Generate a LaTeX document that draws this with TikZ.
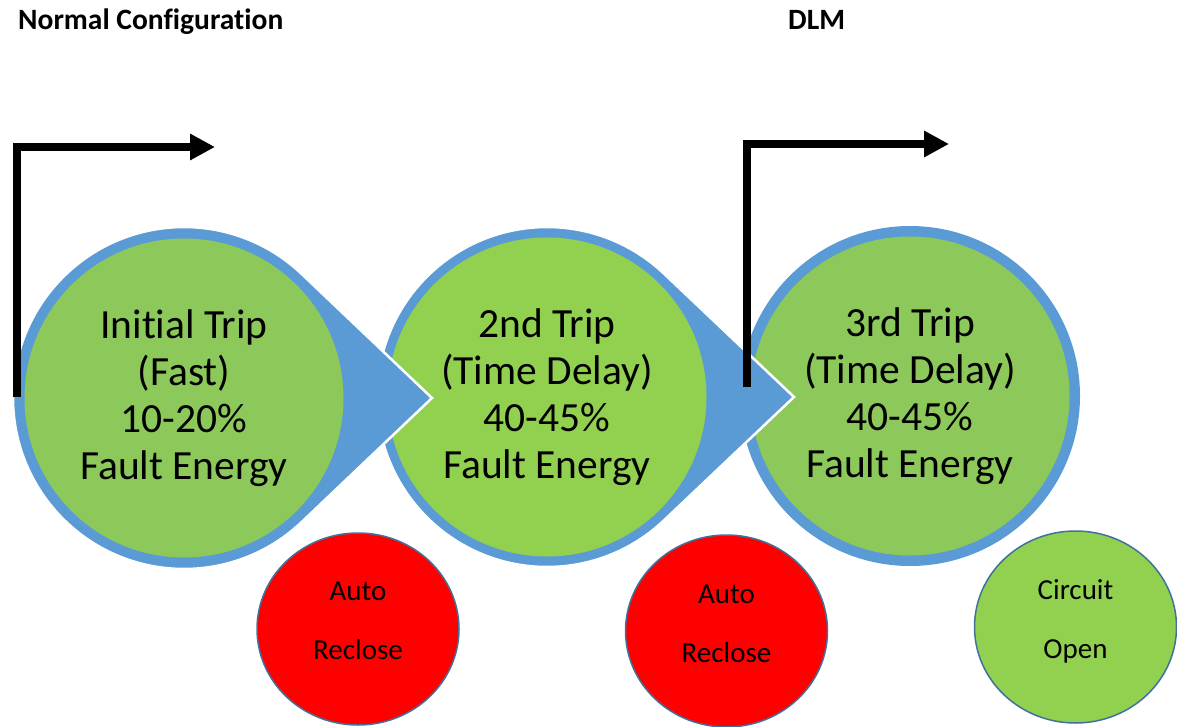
\documentclass[tikz,border=0pt]{standalone}
\usepackage{fontspec}
\setmainfont{Carlito}[Ligatures=NoCommon]
\usetikzlibrary{arrows.meta,shapes.geometric,calc}

\definecolor{ringblue}{HTML}{5B9BD5}
\definecolor{edgeblue}{HTML}{41719C}
\definecolor{softgreen}{HTML}{8CC95A}
\definecolor{brightgreen}{HTML}{92D050}
\definecolor{reclosered}{HTML}{FF0000}

\begin{document}
\begin{tikzpicture}[x=1pt, y=-1pt,
        tripcirc/.style={circle, minimum size=319pt, inner sep=0pt, align=center, font=\fontsize{41.5}{47}\selectfont},
        ring/.style={fill=ringblue, draw=white, line width=2.5pt},
        resultcirc/.style={ellipse, draw=edgeblue, line width=1.5pt, minimum width=202pt, minimum height=192pt, inner sep=0pt},
        resulttxt/.style={align=center, inner sep=0pt, font=\fontsize{29}{59}\selectfont},
        heading/.style={anchor=base west, inner sep=0pt, font=\bfseries\fontsize{29.5}{32}\selectfont},
        flow/.style={line width=8pt, -{Triangle[length=25pt, width=25pt]}}]
        \useasboundingbox (0,0) rectangle (1177,727);

        \node[heading] (normal) at (18,30) {Normal Configuration};
        \node[heading] (dlm) at (788,30) {DLM};

        \coordinate (cA) at (184,398);
        \coordinate (cB) at (547,397);
        \coordinate (cC) at (910,396);

        % last trip first, so each point lies over the next circle
        \fill[ringblue] (cC) circle[radius=170];
        \node[tripcirc, fill=softgreen] (tripC) at (cC) {3rd Trip\\(Time Delay)\\40-45\%\\Fault Energy};

        \filldraw[ring] ($(cB)+(46.2:170)$) arc[start angle=46.2, end angle=313.8, radius=170] -- ($(cB)+(247,0)$) -- cycle;
        \node[tripcirc, fill=brightgreen] (tripB) at (cB) {2nd Trip\\(Time Delay)\\40-45\%\\Fault Energy};

        \filldraw[ring] ($(cA)+(46.2:171)$) arc[start angle=46.2, end angle=313.8, radius=171] -- ($(cA)+(248,0)$) -- cycle;
        \node[tripcirc, fill=softgreen] (tripA) at (cA) {Initial Trip\\(Fast)\\10-20\%\\Fault Energy};

        % outcomes
        \node[resultcirc, fill=reclosered] (recloseA) at (358,629) {};
        \node[resulttxt] (recloseAtxt) at ([yshift=8pt]recloseA.center) {Auto\\Reclose};
        \node[resultcirc, fill=reclosered] (recloseB) at (726.5,631) {};
        \node[resulttxt] (recloseBtxt) at ([yshift=7pt]recloseB.center) {Auto\\Reclose};
        \node[resultcirc, fill=brightgreen] (openC) at (1075.5,627) {};
        \node[resulttxt] (openCtxt) at ([yshift=5.5pt]openC.center) {Circuit\\Open};

        \coordinate (flowA0) at (17,397);
        \coordinate (flowA1) at (215,147);
        \draw[flow] (flowA0) |- (flowA1);
        \coordinate (flowB0) at (747,387);
        \coordinate (flowB1) at (949,144);
        \draw[flow] (flowB0) |- (flowB1);
\end{tikzpicture}
\end{document}
